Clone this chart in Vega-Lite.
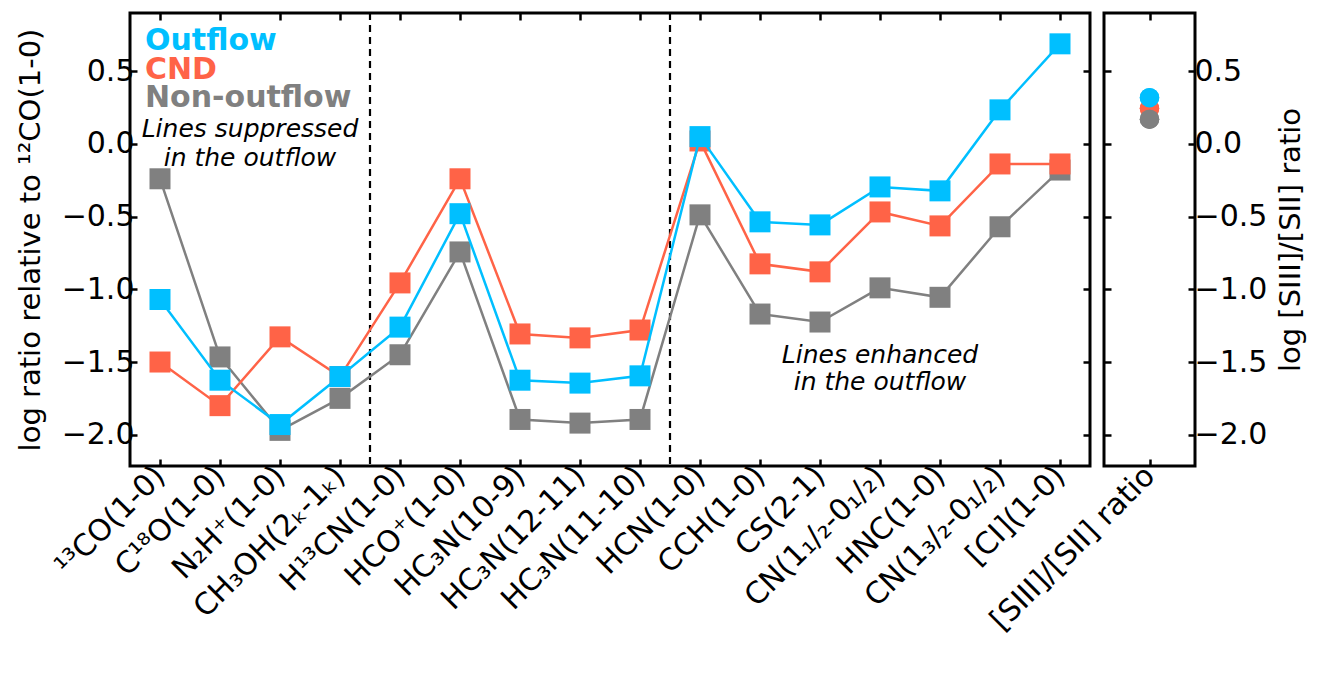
{
  "$schema": "https://vega.github.io/schema/vega-lite/v6.json",
  "padding": {"left": 14, "top": 10, "right": 5, "bottom": 0},
  "background": "white",
  "bounds": "flush",
  "datasets": {
    "main": [
      {"i": 0, "species": "13CO(1-0)", "series": "Non-outflow", "v": -0.24},
      {"i": 1, "species": "C18O(1-0)", "series": "Non-outflow", "v": -1.465},
      {"i": 2, "species": "N2H+(1-0)", "series": "Non-outflow", "v": -1.97},
      {"i": 3, "species": "CH3OH(2K-1K)", "series": "Non-outflow", "v": -1.75},
      {"i": 4, "species": "H13CN(1-0)", "series": "Non-outflow", "v": -1.45},
      {"i": 5, "species": "HCO+(1-0)", "series": "Non-outflow", "v": -0.743},
      {"i": 6, "species": "HC3N(10-9)", "series": "Non-outflow", "v": -1.895},
      {"i": 7, "species": "HC3N(12-11)", "series": "Non-outflow", "v": -1.92},
      {"i": 8, "species": "HC3N(11-10)", "series": "Non-outflow", "v": -1.895},
      {"i": 9, "species": "HCN(1-0)", "series": "Non-outflow", "v": -0.488},
      {"i": 10, "species": "CCH(1-0)", "series": "Non-outflow", "v": -1.17},
      {"i": 11, "species": "CS(2-1)", "series": "Non-outflow", "v": -1.225},
      {"i": 12, "species": "CN(1_1/2-0_1/2)", "series": "Non-outflow", "v": -0.99},
      {"i": 13, "species": "HNC(1-0)", "series": "Non-outflow", "v": -1.055},
      {"i": 14, "species": "CN(1_3/2-0_1/2)", "series": "Non-outflow", "v": -0.57},
      {"i": 15, "species": "[CI](1-0)", "series": "Non-outflow", "v": -0.18},
      {"i": 0, "species": "13CO(1-0)", "series": "CND", "v": -1.50},
      {"i": 1, "species": "C18O(1-0)", "series": "CND", "v": -1.80},
      {"i": 2, "species": "N2H+(1-0)", "series": "CND", "v": -1.327},
      {"i": 3, "species": "CH3OH(2K-1K)", "series": "CND", "v": -1.60},
      {"i": 4, "species": "H13CN(1-0)", "series": "CND", "v": -0.956},
      {"i": 5, "species": "HCO+(1-0)", "series": "CND", "v": -0.24},
      {"i": 6, "species": "HC3N(10-9)", "series": "CND", "v": -1.307},
      {"i": 7, "species": "HC3N(12-11)", "series": "CND", "v": -1.334},
      {"i": 8, "species": "HC3N(11-10)", "series": "CND", "v": -1.28},
      {"i": 9, "species": "HCN(1-0)", "series": "CND", "v": 0.02},
      {"i": 10, "species": "CCH(1-0)", "series": "CND", "v": -0.825},
      {"i": 11, "species": "CS(2-1)", "series": "CND", "v": -0.88},
      {"i": 12, "species": "CN(1_1/2-0_1/2)", "series": "CND", "v": -0.468},
      {"i": 13, "species": "HNC(1-0)", "series": "CND", "v": -0.564},
      {"i": 14, "species": "CN(1_3/2-0_1/2)", "series": "CND", "v": -0.138},
      {"i": 15, "species": "[CI](1-0)", "series": "CND", "v": -0.138},
      {"i": 0, "species": "13CO(1-0)", "series": "Outflow", "v": -1.07},
      {"i": 1, "species": "C18O(1-0)", "series": "Outflow", "v": -1.625},
      {"i": 2, "species": "N2H+(1-0)", "series": "Outflow", "v": -1.93},
      {"i": 3, "species": "CH3OH(2K-1K)", "series": "Outflow", "v": -1.60},
      {"i": 4, "species": "H13CN(1-0)", "series": "Outflow", "v": -1.26},
      {"i": 5, "species": "HCO+(1-0)", "series": "Outflow", "v": -0.48},
      {"i": 6, "species": "HC3N(10-9)", "series": "Outflow", "v": -1.625},
      {"i": 7, "species": "HC3N(12-11)", "series": "Outflow", "v": -1.645},
      {"i": 8, "species": "HC3N(11-10)", "series": "Outflow", "v": -1.595},
      {"i": 9, "species": "HCN(1-0)", "series": "Outflow", "v": 0.05},
      {"i": 10, "species": "CCH(1-0)", "series": "Outflow", "v": -0.536},
      {"i": 11, "species": "CS(2-1)", "series": "Outflow", "v": -0.557},
      {"i": 12, "species": "CN(1_1/2-0_1/2)", "series": "Outflow", "v": -0.296},
      {"i": 13, "species": "HNC(1-0)", "series": "Outflow", "v": -0.323},
      {"i": 14, "species": "CN(1_3/2-0_1/2)", "series": "Outflow", "v": 0.234},
      {"i": 15, "species": "[CI](1-0)", "series": "Outflow", "v": 0.688}
    ],
    "dividers": [{"b": 3.5}, {"b": 8.5}],
    "legend": [
      {"series": "Outflow", "label": "Outflow", "lx": -0.25, "ly": 0.708},
      {"series": "CND", "label": "CND", "lx": -0.25, "ly": 0.509},
      {"series": "Non-outflow", "label": "Non-outflow", "lx": -0.25, "ly": 0.316}
    ],
    "notes": [
      {"note": "Lines suppressed", "nx": 1.5, "ny": 0.103},
      {"note": "in the outflow", "nx": 1.5, "ny": -0.096},
      {"note": "Lines enhanced", "nx": 12.0, "ny": -1.451},
      {"note": "in the outflow", "nx": 12.0, "ny": -1.637}
    ],
    "ratio": [
      {"label": "[SIII]/[SII] ratio", "series": "CND", "r": 0.243},
      {"label": "[SIII]/[SII] ratio", "series": "Non-outflow", "r": 0.170},
      {"label": "[SIII]/[SII] ratio", "series": "Outflow", "r": 0.318}
    ]
  },
  "spacing": 14,
  "hconcat": [
    {
      "width": 960,
      "height": 453,
      "resolve": {"axis": {"x": "independent", "y": "independent"}},
      "layer": [
        {
          "data": {"name": "dividers"},
          "mark": {"type": "rule", "strokeDash": [7, 5], "strokeWidth": 2.2, "color": "black"},
          "encoding": {
            "x": {
              "field": "b", "type": "quantitative",
              "scale": {"domain": [-0.5, 15.5], "nice": false, "zero": false},
              "axis": {
                "orient": "bottom", "title": null,
                "values": [0,1,2,3,4,5,6,7,8,9,10,11,12,13,14,15],
                "labelExpr": "['¹³CO(1-0)','C¹⁸O(1-0)','N₂H⁺(1-0)','CH₃OH(2ₖ-1ₖ)','H¹³CN(1-0)','HCO⁺(1-0)','HC₃N(10-9)','HC₃N(12-11)','HC₃N(11-10)','HCN(1-0)','CCH(1-0)','CS(2-1)','CN(1₁/₂-0₁/₂)','HNC(1-0)','CN(1₃/₂-0₁/₂)','[CI](1-0)'][datum.value]",
                "labelAngle": -45, "labelAlign": "right", "labelBaseline": "middle",
                "labelPadding": 12, "labelOverlap": false, "labelBound": false, "labelFlush": false, "labelLimit": 0
              }
            }
          }
        },
        {
          "data": {"name": "main"},
          "transform": [{"filter": "datum.series === 'Non-outflow'"}],
          "mark": {"type": "line", "strokeWidth": 2.5, "point": {"filled": true, "shape": "square", "size": 441, "opacity": 1}},
          "encoding": {
            "x": {"field": "i", "type": "quantitative", "scale": {"domain": [-0.5, 15.5], "nice": false, "zero": false},
                  "axis": {"orient": "top", "title": null, "labels": false, "values": [0,1,2,3,4,5,6,7,8,9,10,11,12,13,14,15]}},
            "y": {"field": "v", "type": "quantitative", "scale": {"domain": [-2.215, 0.9], "nice": false, "zero": false},
                  "axis": {"orient": "left", "title": "log ratio relative to ¹²CO(1-0)", "values": [-2, -1.5, -1, -0.5, 0, 0.5], "format": ".1f", "labelPadding": 3, "titlePadding": 16}},
            "color": {"field": "series", "type": "nominal", "scale": {"domain": ["Non-outflow", "CND", "Outflow"], "range": ["#808080", "#FF6347", "#00BFFF"]}, "legend": null}
          }
        },
        {
          "data": {"name": "main"},
          "transform": [{"filter": "datum.series === 'CND'"}],
          "mark": {"type": "line", "strokeWidth": 2.5, "point": {"filled": true, "shape": "square", "size": 441, "opacity": 1}},
          "encoding": {
            "x": {"field": "i", "type": "quantitative", "axis": null},
            "y": {"field": "v", "type": "quantitative",
                  "axis": {"orient": "right", "title": null, "labels": false, "values": [-2, -1.5, -1, -0.5, 0, 0.5]}},
            "color": {"field": "series", "type": "nominal", "legend": null}
          }
        },
        {
          "data": {"name": "main"},
          "transform": [{"filter": "datum.series === 'Outflow'"}],
          "mark": {"type": "line", "strokeWidth": 2.5, "point": {"filled": true, "shape": "square", "size": 441, "opacity": 1}},
          "encoding": {
            "x": {"field": "i", "type": "quantitative", "axis": null},
            "y": {"field": "v", "type": "quantitative", "axis": null},
            "color": {"field": "series", "type": "nominal", "legend": null}
          }
        },
        {
          "data": {"name": "legend"},
          "mark": {"type": "text", "fontSize": 30, "fontWeight": "bold", "align": "left", "baseline": "middle", "font": "DejaVu Sans"},
          "encoding": {
            "x": {"field": "lx", "type": "quantitative", "axis": null},
            "y": {"field": "ly", "type": "quantitative", "axis": null},
            "text": {"field": "label"},
            "color": {"field": "series", "type": "nominal", "legend": null}
          }
        },
        {
          "data": {"name": "notes"},
          "mark": {"type": "text", "fontSize": 25, "fontStyle": "italic", "align": "center", "baseline": "middle", "font": "DejaVu Sans", "color": "black"},
          "encoding": {
            "x": {"field": "nx", "type": "quantitative", "axis": null},
            "y": {"field": "ny", "type": "quantitative", "axis": null},
            "text": {"field": "note"}
          }
        }
      ]
    },
    {
      "width": 91,
      "height": 453,
      "resolve": {"axis": {"x": "independent", "y": "independent"}},
      "layer": [
        {
          "data": {"name": "ratio"},
          "mark": {"type": "circle", "size": 380, "opacity": 1},
          "encoding": {
            "x": {"field": "label", "type": "nominal", "scale": {"type": "point", "padding": 0.5},
                  "axis": {"orient": "bottom", "title": null, "labelAngle": -45, "labelAlign": "right", "labelBaseline": "middle", "labelPadding": 12, "labelBound": false, "labelFlush": false, "labelLimit": 0}},
            "y": {"field": "r", "type": "quantitative", "scale": {"domain": [-2.215, 0.9], "nice": false, "zero": false},
                  "axis": {"orient": "right", "title": "log [SIII]/[SII] ratio", "titleAngle": 270, "titleBaseline": "top", "values": [-2, -1.5, -1, -0.5, 0, 0.5], "format": ".1f", "labelPadding": 6, "titlePadding": 10}},
            "color": {"field": "series", "type": "nominal", "scale": {"domain": ["Non-outflow", "CND", "Outflow"], "range": ["#808080", "#FF6347", "#00BFFF"]}, "legend": null}
          }
        },
        {
          "data": {"name": "ratio"},
          "mark": {"type": "circle", "size": 380, "opacity": 1},
          "encoding": {
            "x": {"field": "label", "type": "nominal", "axis": {"orient": "top", "title": null, "labels": false}},
            "y": {"field": "r", "type": "quantitative", "axis": {"orient": "left", "title": null, "labels": false, "values": [-2, -1.5, -1, -0.5, 0, 0.5]}},
            "color": {"field": "series", "type": "nominal", "legend": null}
          }
        }
      ]
    }
  ],
  "config": {
    "font": "DejaVu Sans",
    "view": {"stroke": "black", "strokeWidth": 3},
    "axis": {
      "grid": false, "domain": false,
      "tickColor": "black", "tickWidth": 2.5, "tickSize": -7,
      "labelFont": "DejaVu Sans", "labelFontSize": 30, "labelColor": "black",
      "titleFont": "DejaVu Sans", "titleFontSize": 29, "titleColor": "black", "titleFontWeight": "normal"
    }
  }
}
